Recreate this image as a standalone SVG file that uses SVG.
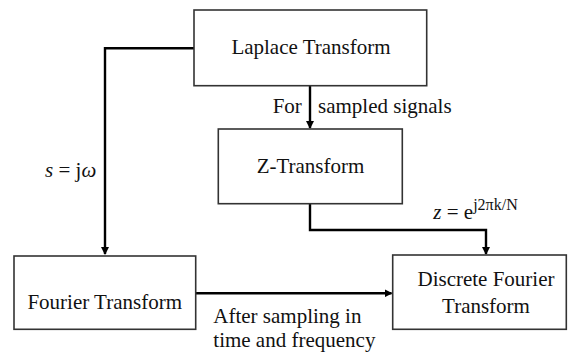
<svg xmlns="http://www.w3.org/2000/svg" width="568" height="356" viewBox="0 0 568 356">
<style>
.box{fill:#fff;stroke:#333;stroke-width:1.6}
.t{font-family:'Liberation Serif','DejaVu Serif',serif;font-size:21px;fill:#111}
.c{fill:none;stroke:#000;stroke-width:2.4}
.it{font-style:italic}
</style>
<defs>
<marker id="ah" markerWidth="8" markerHeight="8" refX="7" refY="4" orient="auto" markerUnits="userSpaceOnUse">
<path d="M0,0 L8,4 L0,8 Z" fill="#000"/>
</marker>
</defs>
<rect width="568" height="356" fill="#fff"/>
<g id="connectors">
<polyline class="c" points="194,48.3 105,48.3 105,254" marker-end="url(#ah)"/>
<line class="c" x1="310" y1="85.7" x2="310" y2="128" marker-end="url(#ah)"/>
<polyline class="c" points="310,203.7 310,230 486,230 486,254" marker-end="url(#ah)"/>
<line class="c" x1="195.7" y1="293.3" x2="391.5" y2="293.3" marker-end="url(#ah)"/>
<text class="t" x="272.7" y="112.7">For</text>
<text class="t" x="318" y="112.7">sampled signals</text>
<text class="t" x="45" y="177.3"><tspan class="it">s</tspan> = j<tspan class="it">ω</tspan></text>
<text class="t" x="433.3" y="219.3"><tspan class="it">z</tspan> = e<tspan font-size="16" dy="-9">j2πk/N</tspan></text>
<text class="t" x="213.3" y="323.3">After sampling in</text>
<text class="t" x="213.3" y="347.3">time and frequency</text>
</g>
<g id="laplace">
<rect class="box" x="194" y="10" width="232.7" height="75.7"/>
<text class="t" x="311" y="54" text-anchor="middle">Laplace Transform</text>
</g>
<g id="ztransform">
<rect class="box" x="218.3" y="129" width="184" height="74.7"/>
<text class="t" x="310.5" y="172.7" text-anchor="middle">Z-Transform</text>
</g>
<g id="fourier">
<rect class="box" x="14" y="256" width="181.7" height="73.3"/>
<text class="t" x="104.7" y="309" text-anchor="middle">Fourier Transform</text>
</g>
<g id="dft">
<rect class="box" x="392.7" y="255" width="173.6" height="74.3"/>
<text class="t" x="486" y="286" text-anchor="middle">Discrete Fourier</text>
<text class="t" x="486" y="312.7" text-anchor="middle">Transform</text>
</g>
</svg>
